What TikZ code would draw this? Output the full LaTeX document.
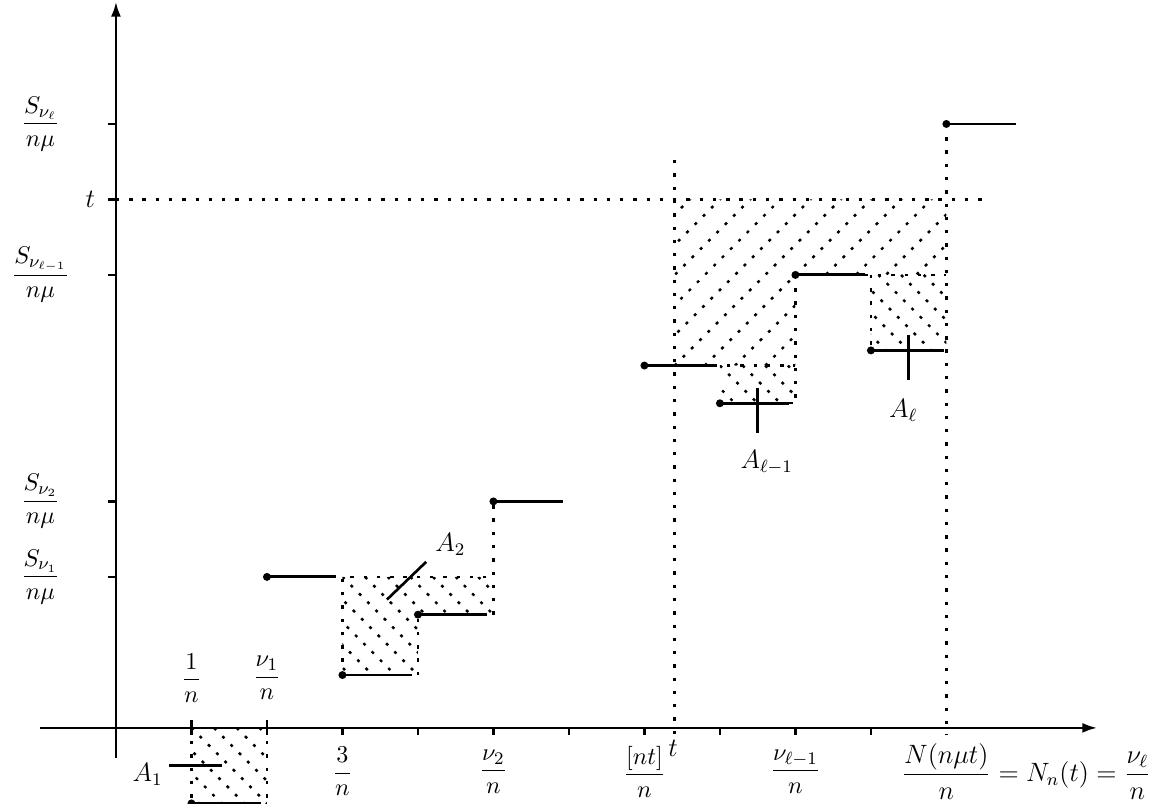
\documentclass[tikz,border=0pt]{standalone}
\usepackage{amsmath}
\usetikzlibrary{arrows.meta}

\begin{document}
\begin{tikzpicture}[x=1.2cm, y=1.2cm,
  stepline/.style={line width=1.3pt},
  guide/.style={line width=1.1pt, dash pattern=on 1.5pt off 4.5pt},
  hatch/.style={line width=1.1pt, dash pattern=on 1.3pt off 4pt},
  pointer/.style={line width=1.2pt},
  frac/.style={font=\fontsize{11}{13}\selectfont},
  big/.style={font=\large}]
\useasboundingbox (-1.536,-1.007) rectangle (13.79,9.642);

% Hatched areas
\begin{scope}
\clip (7.4,4.8) -- (7.4,7) -- (11,7) -- (11,6) -- (9,6) -- (9,4.8) -- cycle;
\foreach \s in {4.2,4.6,...,11} \draw[hatch] (\s,4.8) -- ++(3,3);
\end{scope}
\begin{scope}
\clip (1,-1) rectangle (2,0);
\foreach \s in {-0.2,0.1,...,2} \draw[hatch] (\s,0) -- ++(1.2,-1.2);
\end{scope}
\begin{scope}
\clip (3,0.7) -- (3,2) -- (5,2) -- (5,1.5) -- (4,1.5) -- (4,0.7) -- cycle;
\foreach \s in {1.5,1.8,...,5} \draw[hatch] (\s,2) -- ++(1.5,-1.5);
\end{scope}
\begin{scope}
\clip (8,4.3) rectangle (9,4.8);
\foreach \s in {7.4,7.7,...,9} \draw[hatch] (\s,4.8) -- ++(0.6,-0.6);
\end{scope}
\begin{scope}
\clip (10,5) rectangle (11,6);
\foreach \s in {8.9,9.2,...,11} \draw[hatch] (\s,6) -- ++(1.2,-1.2);
\end{scope}

% Axes
\draw[line width=1.2pt, -{Latex[length=2.4mm,width=1.6mm]}] (-1,0) -- (13,0);
\draw[line width=1.2pt, -{Latex[length=2.4mm,width=1.6mm]}] (0,-0.4) -- (0,9.62);
\foreach \y in {2,3,6,7,8} \draw[line width=1.2pt] (-0.1,\y) -- (0,\y);
\foreach \x in {1,2} \draw[line width=1.2pt] (\x,-0.1) -- (\x,0.1);
\foreach \x in {3,...,10} \draw[line width=1.2pt] (\x,0) -- (\x,-0.1);

% Guides
\draw[guide] (0,7) -- (11.55,7);
\draw[guide] (7.4,7.52) -- (7.4,-0.19);
\draw[guide] (11,8) -- (11,-0.1);
\draw[guide] (1,0) -- (1,-1) (2,0) -- (2,-1);
\draw[guide] (3,0.7) -- (3,2) -- (5,2) (4,0.7) -- (4,1.5) (5,1.5) -- (5,3);
\draw[guide] (7.92,4.8) -- (9,4.8) (9,6) -- (9,4.3) (8.92,4.3) -- (9,4.3);
\draw[guide] (9.92,6) -- (11,6) (10,6) -- (10,5) (10.92,5) -- (11,5);

% Steps
\foreach \k/\h in {1/-1,2/2,3/0.7,4/1.5,5/3,7/4.8,8/4.3,9/6,10/5,11/8} {
  \draw[stepline] (\k,\h) -- (\k+0.92,\h);
  \fill (\k,\h) circle (1.8pt);
}

% Labels on the axes
\node[frac] (lSl) at (-1.0,8) {$\dfrac{S_{\nu_\ell}}{n\mu}$};
\node[big] (lt) at (-0.34,7) {$t$};
\node[frac] (lSlm) at (-1.0,6) {$\dfrac{S_{\nu_{\ell-1}}}{n\mu}$};
\node[frac] (lS2) at (-1.0,3) {$\dfrac{S_{\nu_2}}{n\mu}$};
\node[frac] (lS1) at (-1.0,2) {$\dfrac{S_{\nu_1}}{n\mu}$};
\node[frac] (l1) at (1,0.66) {$\dfrac{1}{n}$};
\node[frac] (lnu1) at (2,0.66) {$\dfrac{\nu_1}{n}$};
\node[frac] (l3) at (3,-0.58) {$\dfrac{3}{n}$};
\node[frac] (lnu2) at (5,-0.58) {$\dfrac{\nu_2}{n}$};
\node[frac] (lnt) at (7,-0.58) {$\dfrac{[nt]}{n}$};
\node[big] (ltx) at (7.38,-0.27) {$t$};
\node[frac] (lnulm) at (9,-0.58) {$\dfrac{\nu_{\ell-1}}{n}$};
\node[big, anchor=west, inner sep=0pt] (lN) at (10.4,-0.58) {$\dfrac{N(n\mu t)}{n}=N_n(t)=\dfrac{\nu_\ell}{n}$};

% Areas
\node[big] (lA1) at (0.42,-0.62) {$A_1$};
\coordinate (pA1a) at (0.70,-0.5);
\coordinate (pA1b) at (1.40,-0.5);
\draw[pointer] (pA1a) -- (pA1b);
\node[big] (lA2) at (4.43,2.43) {$A_2$};
\coordinate (pA2a) at (3.59,1.70);
\coordinate (pA2b) at (4.11,2.20);
\draw[pointer] (pA2a) -- (pA2b);
\node[big] (lAlm) at (8.62,3.52) {$A_{\ell-1}$};
\coordinate (pAlma) at (8.5,4.5);
\coordinate (pAlmb) at (8.5,3.91);
\draw[pointer] (pAlma) -- (pAlmb);
\node[big] (lAl) at (10.43,4.2) {$A_\ell$};
\coordinate (pAla) at (10.5,5.21);
\coordinate (pAlb) at (10.5,4.61);
\draw[pointer] (pAla) -- (pAlb);

\end{tikzpicture}
\end{document}
